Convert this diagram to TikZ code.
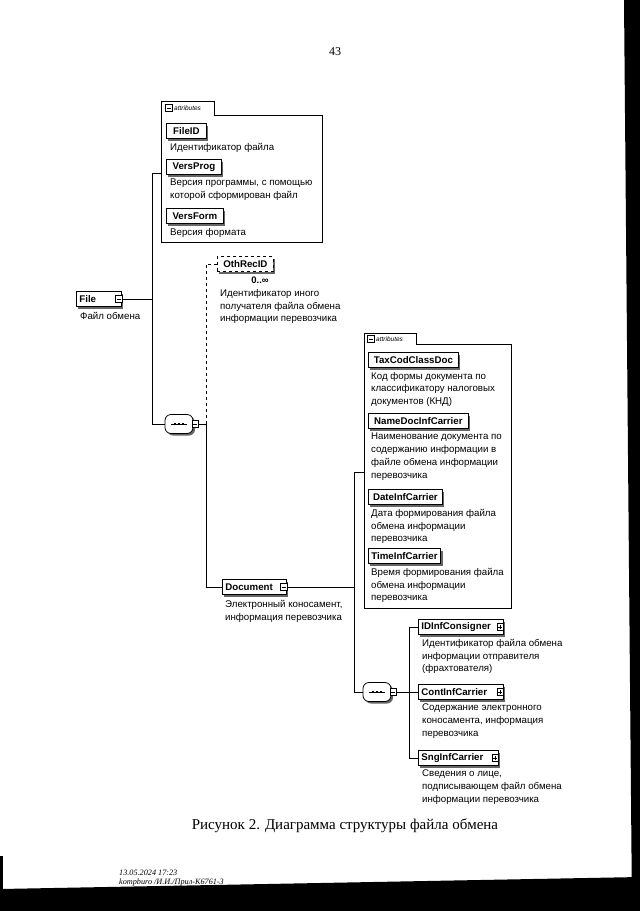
\documentclass[tikz,border=0pt]{standalone}
\usepackage{fontspec}
\setmainfont{Liberation Sans}
\newfontfamily\capfont{Liberation Serif}
\usetikzlibrary{shapes.misc,shadows,calc}
\tikzset{
  lnk/.style={line width=0.8pt, black},
  elem/.style={draw, fill=white, line width=0.8pt, minimum height=15pt, minimum width=#1,
    font=\fontsize{9.7}{11}\selectfont\bfseries, anchor=west, inner xsep=3pt, inner ysep=0pt,
    drop shadow={shadow xshift=2pt, shadow yshift=-2pt, fill=black!60, opacity=1}},
  elemx/.style={elem=#1, text width=#1-6pt, align=left},
  desc/.style={anchor=north west, align=left, inner sep=0pt, font=\fontsize{9.7}{12.8}\selectfont},
  expm/.style={draw, fill=white, line width=0.6pt, minimum size=6.5pt, inner sep=0pt,
    path picture={\draw[line width=0.6pt] ([xshift=1.2pt]path picture bounding box.west) -- ([xshift=-1.2pt]path picture bounding box.east);}},
  expp/.style={expm, path picture={\draw[line width=0.6pt] ([xshift=1.2pt]path picture bounding box.west) -- ([xshift=-1.2pt]path picture bounding box.east);
      \draw[line width=0.6pt] ([yshift=-1.2pt]path picture bounding box.north) -- ([yshift=1.2pt]path picture bounding box.south);}},
  seqbox/.style={rectangle, rounded corners=6pt,
    draw, fill=white, line width=0.8pt, minimum width=28pt, minimum height=19pt, inner sep=0pt,
    drop shadow={shadow xshift=2pt, shadow yshift=-2pt, fill=black!60, opacity=1}},
  attrbox/.style={draw, line width=0.7pt},
  tablabel/.style={anchor=west, inner sep=0pt, font=\fontsize{6.5}{7}\selectfont\itshape},
}
\begin{document}
\begin{tikzpicture}[x=1pt,y=-1pt]
\useasboundingbox (0,0) rectangle (640,911);
\fill[white] (0,0) rectangle (640,911);
% scan borders
\fill[black] (624,0) -- (640,0) -- (640,911) -- (632,911) -- cycle;
\fill[black] (0,889) -- (640,877) -- (640,911) -- (0,911) -- cycle;
\fill[black] (0,856) -- (3,856) -- (3,911) -- (0,911) -- cycle;

% page number
\node[font=\capfont\fontsize{12}{14}\selectfont] (pn) at (335,52) {43};

% ---------- attributes box 1
\draw[attrbox] (161,101) -- (214,101) -- (214,115) -- (322,115) -- (322,242) -- (161,242) -- cycle;
\node[expm] (a1m) at (169,108) {};
\node[tablabel] (a1t) at (174,108) {attributes};
\coordinate (a1w) at (161,173);

\node[elem=40pt] (fileid) at (166,131) {FileID};
\node[desc] (fileidd) at ([shift={(4,4)}]fileid.south west) {Идентификатор файла};
\node[elem=55pt] (versprog) at (166,167) {VersProg};
\node[desc] (versprogd) at ([shift={(4,4)}]versprog.south west) {Версия программы, с помощью\\которой сформирован файл};
\node[elem=57pt] (versform) at (166,216) {VersForm};
\node[desc] (versformd) at ([shift={(4,4)}]versform.south west) {Версия формата};

% ---------- File
\node[elemx=45pt] (file) at (76,299) {File};
\node[expm] (filex) at ([xshift=-3pt]file.east) {};
\node[desc] (filed) at ([shift={(4,5)}]file.south west) {Файл обмена};

\coordinate (t1top) at (152,173);
\coordinate (t1bot) at (152,424);
\draw[lnk] (filex.east) -- (filex.east -| t1top);
\draw[lnk] (a1w) -- (t1top) -- (t1bot);

% ---------- sequence 1
\node[seqbox] (seq1) at (179,424) {};
\draw[line width=0.8pt] ($(seq1.center)+(-8,0)$) -- ($(seq1.center)+(8,0)$);
\foreach \dx in {-4,0,4} \fill ($(seq1.center)+(\dx-1.2,-1.2)$) rectangle ($(seq1.center)+(\dx+1.2,1.2)$);
\node[expm] (seq1x) at ([xshift=2pt]seq1.east) {};
\draw[lnk] (t1bot) -- (seq1.west);

\coordinate (v2) at (206,424);
\coordinate (v2top) at (206,264);
\coordinate (v2bot) at (206,587);
\draw[lnk] (seq1x.east) -- (v2);

% ---------- OthRecID
\node[elem=56pt, dashed] (oth) at (217,264) {OthRecID};
\node[font=\fontsize{9.5}{10}\selectfont\bfseries] (othocc) at (260,280) {0..∞};
\node[desc] (othd) at (220,289) {Идентификатор иного\\получателя файла обмена\\информации перевозчика};
\draw[lnk, dashed] (v2) -- (v2top) -- (oth.west);

% ---------- Document
\node[elemx=64pt] (doc) at (222,587) {Document};
\node[expm] (docx) at ([xshift=-3pt]doc.east) {};
\node[desc] (docd) at ([shift={(3,5)}]doc.south west) {Электронный коносамент,\\информация перевозчика};
\draw[lnk] (v2) -- (v2bot) -- (doc.west);

% ---------- attributes box 2
\draw[attrbox] (364,333) -- (416,333) -- (416,344) -- (511,344) -- (511,608) -- (364,608) -- cycle;
\node[expm] (a2m) at (371,339) {};
\node[tablabel] (a2t) at (376,339) {attributes};
\coordinate (a2w) at (364,472);

\node[elem=90pt] (tax) at (368,360) {TaxCodClassDoc};
\node[desc] (taxd) at ([shift={(3,4)}]tax.south west) {Код формы документа по\\классификатору налоговых\\документов (КНД)};
\node[elem=100pt] (name) at (368,421) {NameDocInfCarrier};
\node[desc] (named) at ([shift={(3,4)}]name.south west) {Наименование документа по\\содержанию информации в\\файле обмена информации\\перевозчика};
\node[elem=74pt] (date) at (368,497) {DateInfCarrier};
\node[desc] (dated) at ([shift={(3,4)}]date.south west) {Дата формирования файла\\обмена информации\\перевозчика};
\node[elem=72pt] (time) at (368,556) {TimeInfCarrier};
\node[desc] (timed) at ([shift={(3,4)}]time.south west) {Время формирования файла\\обмена информации\\перевозчика};

\coordinate (v3top) at (354,472);
\coordinate (v3bot) at (354,692);
\draw[lnk] (docx.east) -- (docx.east -| v3top);
\draw[lnk] (a2w) -- (v3top) -- (v3bot);

% ---------- sequence 2
\node[seqbox] (seq2) at (377,692) {};
\draw[line width=0.8pt] ($(seq2.center)+(-8,0)$) -- ($(seq2.center)+(8,0)$);
\foreach \dx in {-4,0,4} \fill ($(seq2.center)+(\dx-1.2,-1.2)$) rectangle ($(seq2.center)+(\dx+1.2,1.2)$);
\node[expm] (seq2x) at ([xshift=2pt]seq2.east) {};
\draw[lnk] (v3bot) -- (seq2.west);

\coordinate (v4) at (409,692);
\coordinate (v4top) at (409,627);
\coordinate (v4bot) at (409,758);
\draw[lnk] (seq2x.east) -- (v4);

\node[elemx=85pt] (idinf) at (418,627) {IDInfConsigner};
\node[expp] (idinfx) at ([xshift=-3.5pt]idinf.east) {};
\node[desc] (idinfd) at ([shift={(4,4)}]idinf.south west) {Идентификатор файла обмена\\информации отправителя\\(фрахтователя)};
\node[elemx=85pt] (cont) at (418,692) {ContInfCarrier};
\node[expp] (contx) at ([xshift=-3.5pt]cont.east) {};
\node[desc] (contd) at ([shift={(4,4)}]cont.south west) {Содержание электронного\\коносамента, информация\\перевозчика};
\node[elemx=80pt] (sng) at (418,758) {SngInfCarrier};
\node[expp] (sngx) at ([xshift=-3.5pt]sng.east) {};
\node[desc] (sngd) at ([shift={(4,4)}]sng.south west) {Сведения о лице,\\подписывающем файл обмена\\информации перевозчика};

\draw[lnk] (v4top) -- (v4bot);
\draw[lnk] (v4top) -- (idinf.west);
\draw[lnk] (v4) -- (cont.west);
\draw[lnk] (v4bot) -- (sng.west);

% ---------- caption and footer
\node[font=\capfont\fontsize{15}{18}\selectfont] (cap) at (345,826) {Рисунок 2. Диаграмма структуры файла обмена};
\node[anchor=west, align=left, inner sep=0pt, font=\capfont\itshape\fontsize{8.2}{9.5}\selectfont] (foot) at (119,878) {13.05.2024 17:23\\kompburo /И.И./Прил-К6761-3};
\end{tikzpicture}
\end{document}
